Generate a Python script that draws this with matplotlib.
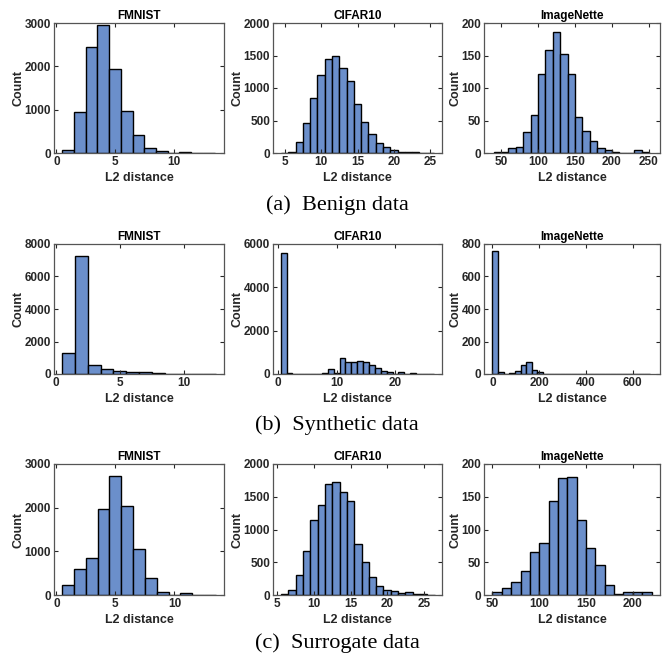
import numpy as np
import matplotlib.pyplot as plt

# datasets and row captions
datasets = ["FMNIST", "CIFAR10", "ImageNette"]
captions = ["(a)  Benign data", "(b)  Synthetic data", "(c)  Surrogate data"]

# histogram counts (first bin edge, bin width, counts)
fm_benign_start, fm_benign_w = 0.5, 1
fm_benign = [80, 950, 2450, 2950, 1930, 960, 420, 120, 50, 10, 25, 5, 5]
ci_benign_start, ci_benign_w = 4.5, 1
ci_benign = [5, 20, 170, 460, 850, 1200, 1440, 1500, 1310, 1110, 750, 470,
             290, 150, 90, 45, 20, 10, 8, 5, 3]
im_benign_start, im_benign_w = 40, 10
im_benign = [2, 2, 8, 10, 32, 58, 122, 158, 186, 152, 122, 56, 34, 18, 8, 4,
             2, 0, 0, 4, 2]

fm_synth_start, fm_synth_w = 0.5, 1
fm_synth = [1300, 7250, 560, 320, 170, 130, 110, 60, 30, 15, 10, 8]
ci_synth_start, ci_synth_w = 0.5, 1
ci_synth = [5600, 30, 10, 10, 10, 10, 10, 50, 210, 30, 750, 540, 560, 620, 570,
            420, 260, 160, 110, 20, 100, 20, 30, 15, 10, 10]
im_synth_start, im_synth_w = 0, 24
im_synth = [755, 12, 3, 8, 20, 55, 75, 25, 15, 3, 2, 3, 2, 1, 1, 1, 1, 0, 1, 1,
            0, 0, 0, 0, 1, 0, 0, 2]

fm_surr_start, fm_surr_w = 0.5, 1
fm_surr = [230, 600, 850, 1970, 2730, 2040, 1060, 390, 80, 10, 40, 5, 5]
ci_surr_start, ci_surr_w = 5.5, 1
ci_surr = [8, 80, 300, 670, 1150, 1370, 1700, 1730, 1570, 1440, 780, 500, 280,
           140, 80, 65, 30, 45, 15, 8, 5]
im_surr_start, im_surr_w = 50, 10
im_surr = [4, 10, 20, 36, 66, 80, 144, 178, 180, 114, 72, 46, 16, 2, 4, 4, 4]

hists = [
    [(fm_benign_start, fm_benign_w, fm_benign), (ci_benign_start, ci_benign_w, ci_benign),
     (im_benign_start, im_benign_w, im_benign)],
    [(fm_synth_start, fm_synth_w, fm_synth), (ci_synth_start, ci_synth_w, ci_synth),
     (im_synth_start, im_synth_w, im_synth)],
    [(fm_surr_start, fm_surr_w, fm_surr), (ci_surr_start, ci_surr_w, ci_surr),
     (im_surr_start, im_surr_w, im_surr)],
]

xlims = [
    [(-0.2, 14.3), (3.4, 26.6), (27, 265)],
    [(-0.13, 13.1), (-0.8, 27.9), (-36, 716)],
    [(-0.2, 14.2), (4.4, 27.5), (41, 229)],
]
xticks = [
    [[0, 5, 10], [5, 10, 15, 20, 25], [50, 100, 150, 200, 250]],
    [[0, 5, 10], [0, 10, 20], [0, 200, 400, 600]],
    [[0, 5, 10], [5, 10, 15, 20, 25], [50, 100, 150, 200]],
]
ylims = [[3000, 2000, 200], [8000, 6000, 800], [3000, 2000, 200]]
ysteps = [[1000, 500, 50], [2000, 2000, 200], [1000, 500, 50]]

W, H = 672, 660
col_px = [(54, 224), (273, 442), (484, 660)]
row_px = [(23, 153), (244, 374), (464, 595)]
cap_y = [205, 425, 643]

bar_color = "#6b8fcb"
sans = ["Liberation Sans", "DejaVu Sans"]
ink = "#262626"

fig = plt.figure(figsize=(W / 100, H / 100), dpi=100)

for r in range(3):
    for c in range(3):
        x0, x1 = col_px[c]
        y0, y1 = row_px[r]
        ax = fig.add_axes([x0 / W, 1 - y1 / H, (x1 - x0) / W, (y1 - y0) / H])
        start, w, counts = hists[r][c]
        edges = start + w * np.arange(len(counts))
        ax.bar(edges, counts, width=w, align="edge", color=bar_color,
               edgecolor="black", linewidth=1.0)
        ax.set_xlim(*xlims[r][c])
        ax.set_ylim(0, ylims[r][c])
        ax.set_xticks(xticks[r][c])
        ax.set_yticks(np.arange(0, ylims[r][c] + 1, ysteps[r][c]))
        ax.tick_params(direction="in", length=3, width=0.8, top=True, right=True,
                       labelsize=8.5, pad=2, color=ink)
        for lab in ax.get_xticklabels() + ax.get_yticklabels():
            lab.set_fontweight("bold")
            lab.set_family(sans)
            lab.set_color(ink)
        for sp in ax.spines.values():
            sp.set_color("#555555")
            sp.set_linewidth(0.9)
        ax.set_title(datasets[c], fontsize=8.5, fontweight="bold", family=sans, pad=3)
        ax.set_xlabel("L2 distance", fontsize=9, fontweight="bold", family=sans,
                      labelpad=3, color=ink)
        ax.set_ylabel("Count", fontsize=9, fontweight="bold", family=sans,
                      labelpad=0, color=ink)

for r in range(3):
    fig.text(337 / W, 1 - cap_y[r] / H, captions[r], ha="center", va="center",
             fontsize=16, family=["Liberation Serif", "DejaVu Serif"])

fig.savefig("out.png", dpi=100)
